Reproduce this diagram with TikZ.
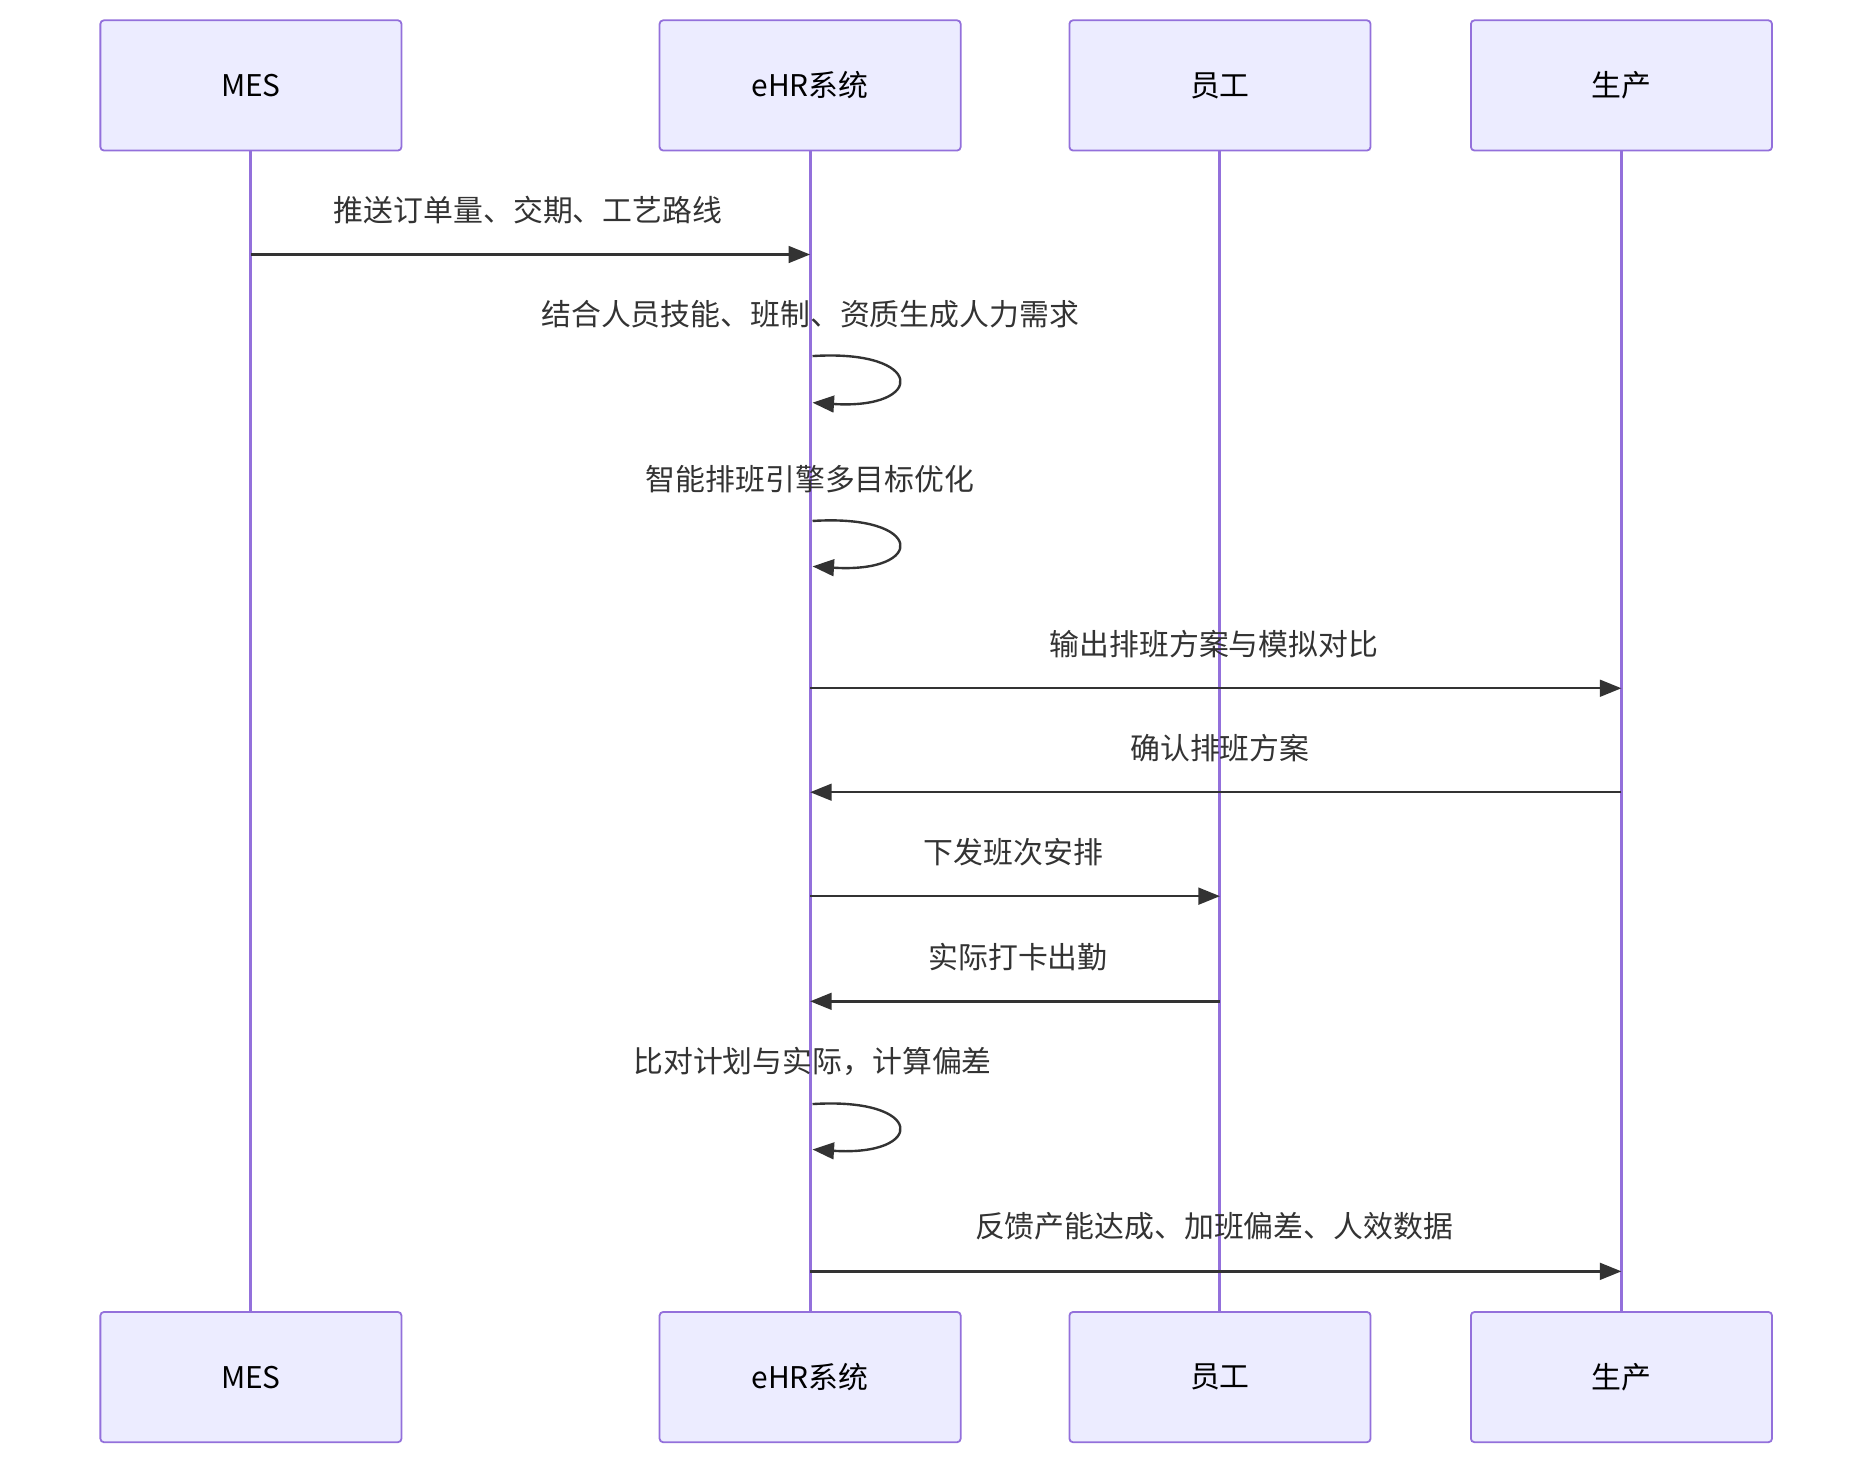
\documentclass[tikz,border=0pt]{standalone}
\usepackage{fontspec}
\setmainfont{Noto Sans CJK SC}
\usetikzlibrary{arrows.meta}
\definecolor{boxfill}{HTML}{ECECFF}
\definecolor{boxline}{HTML}{9370DB}
\definecolor{ink}{HTML}{333333}
\begin{document}
\begin{tikzpicture}[x=1pt,y=-1pt,
  actor/.style={draw=boxline,fill=boxfill,line width=1.5pt,rounded corners=3pt,minimum width=252pt,minimum height=109pt,font=\fontsize{25}{30}\selectfont,text=black,inner sep=0pt},
  life/.style={draw=boxline,line width=2.5pt},
  msg/.style={draw=ink,line width=2pt,-{Triangle[length=18pt,width=14pt]}},
  lbl/.style={font=\fontsize{25}{30}\selectfont,text=ink,inner sep=0pt}]
\useasboundingbox (0,0) rectangle (1560,1220);
\foreach \n/\x/\t in {a/210/MES/ERP系统, b/678/eHR系统, c/1021/员工/班组, d/1357/生产/HR管理者}{
  \node[actor] (\n top) at (\x,71.5) {\t};
  \node[actor] (\n bot) at (\x,1152.5) {\t};
  \draw[life] (\n top.south) -- (\n bot.north);
}
% messages
\coordinate (m1s) at (210,213); \coordinate (m1e) at (678,213);
\draw[msg] (m1s) -- (m1e);
\node[lbl] (l1) at (442,176) {推送订单量、交期、工艺路线};
\node[lbl] (l2) at (678,263) {结合人员技能、班制、资质生成人力需求};
\coordinate (s1a) at (680,298); \coordinate (s1b) at (680,337);
\draw[msg] (s1a) .. controls (775,292) and (775,343) .. (s1b);
\node[lbl] (l3) at (678,401) {智能排班引擎多目标优化};
\coordinate (s2a) at (680,436); \coordinate (s2b) at (680,474);
\draw[msg] (s2a) .. controls (775,430) and (775,480) .. (s2b);
\coordinate (m4s) at (678,576); \coordinate (m4e) at (1357,576);
\draw[msg] (m4s) -- (m4e);
\node[lbl] (l4) at (1016,539) {输出排班方案与模拟对比};
\coordinate (m5s) at (1357,663); \coordinate (m5e) at (678,663);
\draw[msg] (m5s) -- (m5e);
\node[lbl] (l5) at (1021,626) {确认排班方案};
\coordinate (m6s) at (678,750); \coordinate (m6e) at (1021,750);
\draw[msg] (m6s) -- (m6e);
\node[lbl] (l6) at (848,713) {下发班次安排};
\coordinate (m7s) at (1021,838); \coordinate (m7e) at (678,838);
\draw[msg] (m7s) -- (m7e);
\node[lbl] (l7) at (852,801) {实际打卡出勤};
\node[lbl] (l8) at (680,888) {比对计划与实际，计算偏差};
\coordinate (s3a) at (680,924); \coordinate (s3b) at (680,962);
\draw[msg] (s3a) .. controls (775,918) and (775,968) .. (s3b);
\coordinate (m9s) at (678,1064); \coordinate (m9e) at (1357,1064);
\draw[msg] (m9s) -- (m9e);
\node[lbl] (l9) at (1016,1026) {反馈产能达成、加班偏差、人效数据};
\end{tikzpicture}
\end{document}
